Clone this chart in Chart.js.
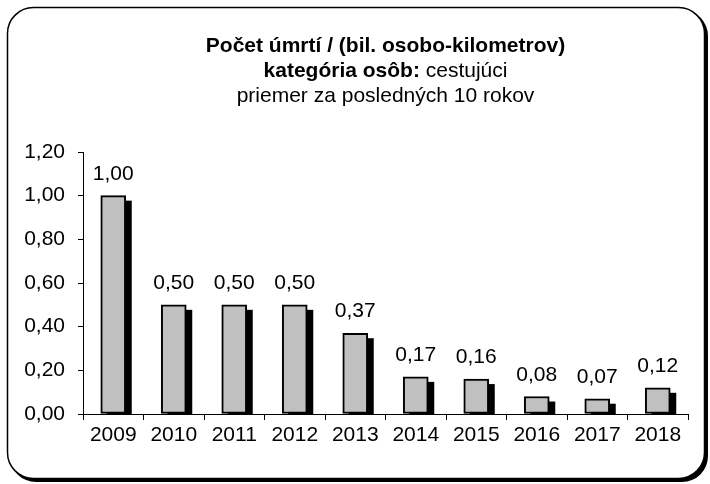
<!DOCTYPE html>
<html>
<head>
<meta charset="utf-8">
<script src="https://cdn.jsdelivr.net/npm/chart.js@4"></script>
<style>
  html, body { margin: 0; padding: 0; background: #ffffff; }
  canvas { display: block; }
</style>
</head>
<body>
<canvas id="c" width="710" height="484"></canvas>
<script>
const categories = ["2009", "2010", "2011", "2012", "2013", "2014", "2015", "2016", "2017", "2018"];
const values = [1.00, 0.50, 0.50, 0.50, 0.37, 0.17, 0.16, 0.08, 0.07, 0.12];
const yTicks = [0, 0.2, 0.4, 0.6, 0.8, 1.0, 1.2];
const titleLine1 = "Počet úmrtí / (bil. osobo-kilometrov)";
const titleLine2Bold = "kategória osôb:";
const titleLine2Normal = " cestujúci";
const titleLine3 = "priemer za posledných 10 rokov";

const FONT = "'Liberation Sans', Arial, sans-serif";
const fmt = v => v.toFixed(2).replace('.', ',');

function roundRect(ctx, x, y, w, h, r) {
  ctx.beginPath();
  ctx.moveTo(x + r, y);
  ctx.lineTo(x + w - r, y);
  ctx.arcTo(x + w, y, x + w, y + r, r);
  ctx.lineTo(x + w, y + h - r);
  ctx.arcTo(x + w, y + h, x + w - r, y + h, r);
  ctx.lineTo(x + r, y + h);
  ctx.arcTo(x, y + h, x, y + h - r, r);
  ctx.lineTo(x, y + r);
  ctx.arcTo(x, y, x + r, y, r);
  ctx.closePath();
}

const framePlugin = {
  id: 'frame',
  beforeDraw(chart) {
    const ctx = chart.ctx;
    ctx.save();
    ctx.fillStyle = '#ffffff';
    ctx.fillRect(0, 0, chart.width, chart.height);
    roundRect(ctx, 10, 10, 698, 472, 26);
    ctx.fillStyle = '#000000';
    ctx.fill();
    roundRect(ctx, 7.5, 7.5, 697, 471, 26);
    ctx.fillStyle = '#ffffff';
    ctx.fill();
    ctx.lineWidth = 1.5;
    ctx.strokeStyle = '#000000';
    ctx.stroke();
    ctx.restore();
  }
};

const titlePlugin = {
  id: 'customTitle',
  afterDraw(chart) {
    const ctx = chart.ctx;
    const area = chart.chartArea;
    const cx = (area.left + area.right) / 2;
    ctx.save();
    ctx.fillStyle = '#000000';
    ctx.textBaseline = 'alphabetic';
    ctx.textAlign = 'center';
    ctx.font = "bold 21px " + FONT;
    ctx.fillText(titleLine1, cx, 52);
    const wb = ctx.measureText(titleLine2Bold).width;
    ctx.font = "21px " + FONT;
    const wn = ctx.measureText(titleLine2Normal).width;
    const start = cx - (wb + wn) / 2;
    ctx.textAlign = 'left';
    ctx.font = "bold 21px " + FONT;
    ctx.fillText(titleLine2Bold, start, 77);
    ctx.font = "21px " + FONT;
    ctx.fillText(titleLine2Normal, start + wb, 77);
    ctx.textAlign = 'center';
    ctx.fillText(titleLine3, cx, 102);
    ctx.restore();
  }
};

// Solid black drop shadow behind each bar, positioned from the bar elements
const shadowPlugin = {
  id: 'barShadow',
  beforeDatasetDraw(chart) {
    const ctx = chart.ctx;
    const area = chart.chartArea;
    const meta = chart.getDatasetMeta(0);
    ctx.save();
    ctx.beginPath();
    ctx.rect(area.left, area.top, area.right - area.left, area.bottom - area.top);
    ctx.clip();
    ctx.fillStyle = '#000000';
    meta.data.forEach(bar => {
      const p = bar.getProps(['x', 'y', 'base', 'width'], true);
      const left = p.x - p.width / 2 + 6;
      const top = Math.min(p.y, p.base) + 5;
      ctx.fillRect(left, top, p.width, Math.abs(p.base - p.y));
    });
    ctx.restore();
  }
};

const labelPlugin = {
  id: 'valueLabels',
  afterDatasetsDraw(chart) {
    const ctx = chart.ctx;
    const meta = chart.getDatasetMeta(0);
    ctx.save();
    ctx.fillStyle = '#000000';
    ctx.font = "21px " + FONT;
    ctx.textAlign = 'center';
    ctx.textBaseline = 'alphabetic';
    meta.data.forEach((bar, i) => {
      ctx.fillText(fmt(values[i]), bar.x, bar.y - 16);
    });
    ctx.restore();
  }
};

new Chart(document.getElementById('c'), {
  type: 'bar',
  data: {
    labels: categories,
    datasets: [{
      data: values,
      backgroundColor: '#c0c0c0',
      borderColor: '#000000',
      borderWidth: 2,
      borderSkipped: false,
      barThickness: 25
    }]
  },
  options: {
    responsive: false,
    animation: false,
    devicePixelRatio: 1,
    layout: { padding: { top: 152, left: 0, right: 22, bottom: 0 } },
    plugins: {
      legend: { display: false },
      title: { display: false },
      tooltip: { enabled: false }
    },
    scales: {
      x: {
        offset: true,
        grid: {
          display: true,
          offset: true,
          drawOnChartArea: false,
          drawTicks: true,
          tickLength: 6,
          color: '#000000',
          lineWidth: 1
        },
        border: { display: true, color: '#000000', width: 1 },
        ticks: {
          color: '#000000',
          font: { family: FONT, size: 21 },
          padding: 3,
          maxRotation: 0,
          autoSkip: false
        },
        afterFit(scale) { scale.height = 484 - 414; }
      },
      y: {
        min: 0,
        max: 1.2,
        afterBuildTicks(scale) { scale.ticks = yTicks.map(v => ({ value: v })); },
        grid: {
          display: true,
          drawOnChartArea: false,
          drawTicks: true,
          tickLength: 5,
          color: '#000000',
          lineWidth: 1
        },
        border: { display: true, color: '#000000', width: 1 },
        ticks: {
          color: '#000000',
          font: { family: FONT, size: 21 },
          padding: 13,
          callback: v => fmt(v)
        },
        afterFit(scale) { scale.width = 83; }
      }
    }
  },
  plugins: [framePlugin, shadowPlugin, labelPlugin, titlePlugin]
});
</script>
</body>
</html>
